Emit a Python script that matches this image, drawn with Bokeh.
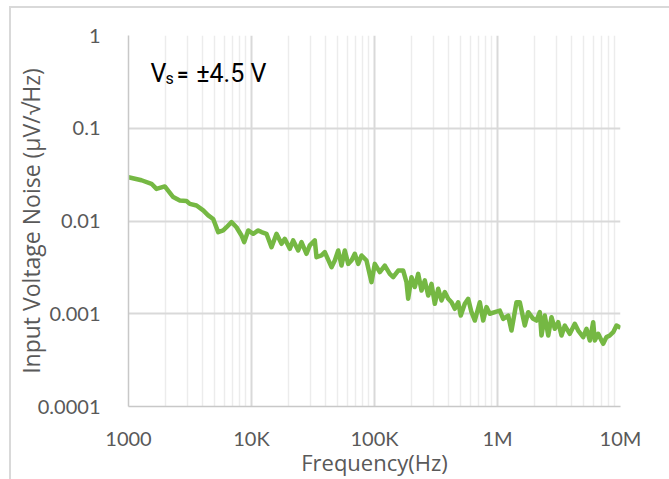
from bokeh.plotting import figure
from bokeh.models import FixedTicker, Label, InlineStyleSheet
from bokeh.embed import file_html
from bokeh.resources import INLINE

# Input voltage noise density vs frequency (Vs = ±4.5 V)
freq_hz = [
    1000, 1276, 1538, 1689, 1973, 2309, 2613, 2962, 3151, 3572,
    4049, 4446, 4882, 5362, 5888, 6262, 6877, 7551, 8293, 8725,
    9402, 10323, 11337, 12060, 13243, 14543, 15970, 17538, 18656, 20487,
    21827, 23970, 25499, 28003, 29785, 32706, 33770, 37080, 39440, 44720,
    47560, 50690, 53910, 57350, 61130, 65010, 69160, 73710, 78420, 86100,
    94540, 100550, 110440, 121270, 133170, 141910, 155830, 171130, 182020, 187900,
    199900, 212650, 226650, 241100, 256440, 273330, 290740, 309280, 329600, 350590,
    372870, 397360, 422670, 449560, 479120, 502900, 542100, 577830, 614560, 653640,
    717960, 765220, 813920, 865680, 950660, 1044000, 1112500, 1221700, 1299400, 1427000,
    1518000, 1667000, 1777000, 1951000, 2075000, 2207000, 2279000, 2424000, 2585000, 2748000,
    2924000, 3116000, 3315000, 3526000, 3871000, 4251000, 4530000, 4975000, 5291000, 5628000,
    5998000, 6180000, 6588000, 7006000, 7233000, 7693000, 8185000, 8724000, 9280000, 10000000,
]
noise_uv_per_rthz = [
    0.0296, 0.0275, 0.0252, 0.0222, 0.0236, 0.0181, 0.0166, 0.0164, 0.0153, 0.0147,
    0.0130, 0.0115, 0.0105, 0.00759, 0.00794, 0.00857, 0.00971, 0.00857, 0.00698, 0.00592,
    0.00791, 0.00728, 0.00791, 0.00759, 0.00728, 0.00522, 0.00728, 0.00568, 0.00643, 0.00501,
    0.00617, 0.00481, 0.00592, 0.00443, 0.00545, 0.00617, 0.00407, 0.00425, 0.00461, 0.00318,
    0.00375, 0.00481, 0.00331, 0.00481, 0.00345, 0.00375, 0.00443, 0.00345, 0.00425, 0.00375,
    0.00219, 0.00345, 0.00281, 0.00331, 0.00269, 0.00248, 0.00292, 0.00292, 0.00219, 0.00145,
    0.00248, 0.00194, 0.00269, 0.00178, 0.00229, 0.00157, 0.00210, 0.00128, 0.00186, 0.00139,
    0.00171, 0.00145, 0.00133, 0.00113, 0.00133, 0.000957, 0.00128, 0.00145, 0.00104, 0.000845,
    0.00133, 0.000845, 0.00118, 0.00100, 0.00104, 0.00108, 0.000881, 0.000957, 0.000659, 0.00133,
    0.00133, 0.000746, 0.00104, 0.000881, 0.000845, 0.00104, 0.000583, 0.000957, 0.000583, 0.000918,
    0.000689, 0.000811, 0.000583, 0.000746, 0.000608, 0.000780, 0.000659, 0.000560, 0.000689, 0.000515,
    0.000811, 0.000515, 0.000608, 0.000515, 0.000474, 0.000560, 0.000583, 0.000632, 0.000746, 0.000705,
]

x_ticks = [1e3, 1e4, 1e5, 1e6, 1e7]
x_tick_labels = ["1000", "10K", "100K", "1M", "10M"]
y_ticks = [1e-4, 1e-3, 1e-2, 1e-1, 1]
y_tick_labels = ["0.0001", "0.001", "0.01", "0.1", "1"]

TICK_FONT = "Lato"
TITLE_FONT = "Open Sans"
TEXT_GREY = "#595959"

p = figure(
    x_axis_type="log", y_axis_type="log",
    x_range=(1e3, 1e7), y_range=(1e-4, 1),
    frame_width=492, frame_height=371,
    min_border_left=116, min_border_right=52,
    min_border_top=27, min_border_bottom=73,
    output_backend="svg", toolbar_location=None,
    margin=(6, 0, 0, 9),
)
p.stylesheets = [InlineStyleSheet(
    css=":host { border-left: 2px solid #d9d9d9; border-top: 2px solid #d9d9d9; }"
)]
p.outline_line_color = None
p.background_fill_color = "white"
p.border_fill_color = "white"

minor_x = [m * d for d in x_ticks[:-1] for m in range(2, 10)]
p.xaxis.ticker = FixedTicker(ticks=x_ticks, minor_ticks=minor_x)
p.yaxis.ticker = FixedTicker(ticks=y_ticks)
p.xaxis.major_label_overrides = dict(zip(x_ticks, x_tick_labels))
p.yaxis.major_label_overrides = dict(zip(y_ticks, y_tick_labels))

for ax in (p.xaxis, p.yaxis):
    ax.axis_line_color = "#c8c8c8"
    ax.axis_line_width = 1.5
    ax.major_tick_line_color = None
    ax.minor_tick_line_color = None
    ax.major_label_text_font = TICK_FONT
    ax.major_label_text_font_size = "20px"
    ax.major_label_text_color = TEXT_GREY
    ax.axis_label_text_font = TITLE_FONT
    ax.axis_label_text_font_style = "normal"
    ax.axis_label_text_color = TEXT_GREY

p.xaxis.axis_label = "Frequency(Hz)"
p.yaxis.axis_label = "Input Voltage Noise (µV/√Hz)"
p.xaxis.axis_label_text_font_size = "22px"
p.yaxis.axis_label_text_font_size = "23px"
p.xaxis.major_label_standoff = 13
p.xaxis.axis_label_standoff = -6
p.yaxis.major_label_standoff = 22
p.yaxis.axis_label_standoff = -12

p.xgrid.grid_line_color = "#d9d9d9"
p.xgrid.grid_line_width = 2
p.xgrid.minor_grid_line_color = "#ececec"
p.xgrid.minor_grid_line_width = 1.5
p.ygrid.grid_line_color = "#d9d9d9"
p.ygrid.grid_line_width = 2

p.line(freq_hz, noise_uv_per_rthz, line_color="#75b843", line_width=4.5,
       line_join="round")

# supply-voltage note
p.add_layout(Label(x=1510, y=0.389, text="V", text_font="Roboto",
                   text_font_size="25px", text_color="black",
                   text_baseline="alphabetic"))
p.add_layout(Label(x=2000, y=0.345, text="s", text_font="Roboto",
                   text_font_size="16px", text_color="black",
                   text_baseline="alphabetic"))
p.add_layout(Label(x=2480, y=0.389, text="=", text_font="Roboto",
                   text_font_size="20px", text_color="black",
                   text_font_style="bold", text_baseline="alphabetic"))
p.add_layout(Label(x=3550, y=0.389, text="±4.5 V", text_font="Roboto",
                   text_font_size="25px", text_color="black",
                   text_baseline="alphabetic"))

open("out.html", "w").write(file_html(p, INLINE))
